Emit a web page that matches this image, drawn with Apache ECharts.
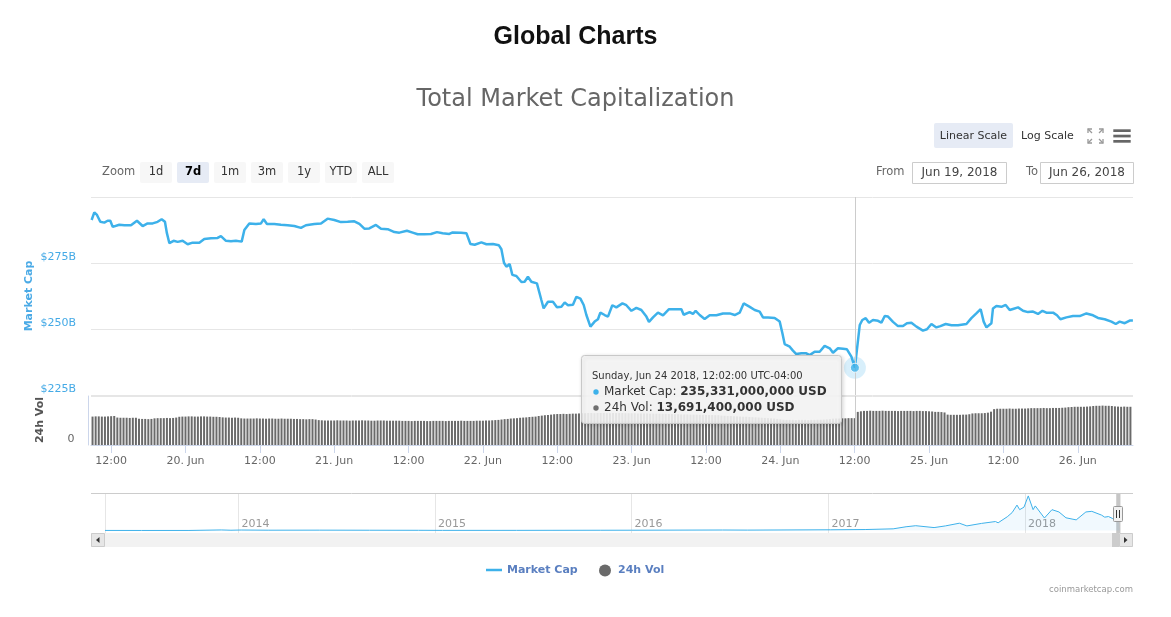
<!DOCTYPE html>
<html><head><meta charset="utf-8">
<script src="https://cdn.jsdelivr.net/npm/echarts@6/dist/echarts.min.js"></script>
<style>html,body{margin:0;padding:0;background:#fff;}#c{width:1171px;height:617px;}</style>
</head><body><div id="c"></div>
<script>
// ---------- DATA ----------
// Market cap samples (June 2018, chart-local time), values in billions USD
const capTimes = [
'06-19 08:51','06-19 09:17','06-19 09:43','06-19 10:15','06-19 10:54','06-19 11:26','06-19 11:52','06-19 12:15','06-19 13:19','06-19 14:08',
'06-19 15:12','06-19 16:10','06-19 17:05','06-19 17:53','06-19 18:42','06-19 19:30','06-19 20:09','06-19 20:41','06-19 21:00','06-19 21:24',
'06-19 22:05','06-19 22:44','06-19 23:32','06-20 00:21','06-20 01:09','06-20 02:14','06-20 03:02','06-20 04:07','06-20 05:11','06-20 05:43',
'06-20 06:32','06-20 07:20','06-20 08:08','06-20 09:04','06-20 09:30','06-20 10:18','06-20 11:22','06-20 12:11','06-20 12:37','06-20 13:09',
'06-20 14:20','06-20 15:24','06-20 16:29','06-20 17:34','06-20 18:38','06-20 19:26','06-20 20:48','06-20 21:52','06-20 22:56','06-21 00:01',
'06-21 01:05','06-21 02:10','06-21 03:15','06-21 04:04','06-21 04:52','06-21 05:40','06-21 06:44','06-21 07:33','06-21 08:38','06-21 09:43',
'06-21 10:31','06-21 11:44','06-21 12:40','06-21 13:28','06-21 14:33','06-21 15:37','06-21 16:35','06-21 17:30','06-21 18:35','06-21 19:07',
'06-21 20:28','06-21 21:20','06-21 21:59','06-21 22:40','06-21 23:45','06-22 00:34','06-22 01:37','06-22 02:35','06-22 02:59','06-22 03:24',
'06-22 03:47','06-22 04:19','06-22 04:45','06-22 05:24','06-22 06:13','06-22 06:44','06-22 07:16','06-22 07:49','06-22 08:43','06-22 09:26',
'06-22 09:48','06-22 10:30','06-22 11:18','06-22 11:57','06-22 12:40','06-22 13:12','06-22 13:44','06-22 14:32','06-22 15:05','06-22 15:44',
'06-22 16:16','06-22 16:42','06-22 16:57','06-22 17:21','06-22 18:02','06-22 18:34','06-22 18:57','06-22 19:39','06-22 20:11','06-22 20:53',
'06-22 21:32','06-22 22:31','06-22 23:09','06-22 23:58','06-23 00:46','06-23 01:34','06-23 02:23','06-23 02:48','06-23 03:27','06-23 04:15',
'06-23 05:04','06-23 06:02','06-23 06:57','06-23 08:02','06-23 08:24','06-23 09:22','06-23 09:54','06-23 10:20','06-23 10:59','06-23 11:47',
'06-23 12:36','06-23 13:41','06-23 14:45','06-23 15:50','06-23 16:38','06-23 17:26','06-23 18:05','06-23 19:04','06-23 19:52','06-23 20:40',
'06-23 21:12','06-23 22:01','06-23 23:05','06-23 23:54','06-24 00:20','06-24 00:42','06-24 01:31','06-24 02:02','06-24 02:35','06-24 03:24',
'06-24 04:12','06-24 04:44','06-24 05:32','06-24 06:21','06-24 07:09','06-24 07:58','06-24 08:30','06-24 09:18','06-24 10:07','06-24 10:45',
'06-24 11:28','06-24 12:02','06-24 12:49','06-24 13:14','06-24 13:47','06-24 14:19','06-24 14:57','06-24 15:46','06-24 16:19','06-24 16:51',
'06-24 17:23','06-24 18:11','06-24 18:59','06-24 19:48','06-24 20:26','06-24 21:09','06-24 21:58','06-24 23:01','06-24 23:40','06-25 00:23',
'06-25 01:11','06-25 01:50','06-25 02:41','06-25 03:37','06-25 04:40','06-25 06:02','06-25 06:50','06-25 07:38','06-25 08:20','06-25 08:49',
'06-25 09:16','06-25 10:04','06-25 10:19','06-25 10:52','06-25 11:41','06-25 12:22','06-25 13:01','06-25 13:33','06-25 14:22','06-25 15:10',
'06-25 15:58','06-25 16:47','06-25 17:35','06-25 18:18','06-25 18:56','06-25 20:01','06-25 20:39','06-25 21:12','06-25 22:10','06-25 23:14',
'06-26 00:19','06-26 01:24','06-26 02:28','06-26 03:16','06-26 04:21','06-26 05:26','06-26 06:08','06-26 06:46','06-26 07:35','06-26 08:23',
'06-26 08:54'];
const capValues = [
291.3,294.2,293.2,290.6,290.3,291.0,291.0,288.7,289.5,289.3,
289.3,291.0,289.0,290.0,290.0,290.6,291.6,290.6,286.3,282.5,
283.4,283.0,283.4,282.1,282.7,282.7,284.1,284.4,284.5,285.2,
283.4,283.2,283.4,283.1,287.5,290.0,289.8,290.0,291.6,289.8,
289.8,289.5,289.3,289.0,288.3,289.3,289.8,290.0,291.8,291.3,
290.5,290.6,290.8,289.8,288.0,288.1,289.4,288.0,287.8,286.7,
286.5,287.2,286.5,285.9,285.9,286.0,286.7,286.3,286.0,286.6,
286.5,286.3,282.2,281.9,282.8,282.1,282.2,281.7,280.2,275.1,
273.6,274.6,270.5,270.1,267.8,267.9,269.8,267.9,267.3,261.0,
257.8,260.3,260.3,258.2,258.4,260.0,259.0,259.2,262.2,261.5,
259.1,255.3,254.7,250.9,252.8,253.7,256.2,255.3,254.7,259.0,
258.2,259.7,259.0,256.9,258.0,257.2,254.7,252.7,254.4,256.2,
255.2,257.5,257.5,257.5,255.4,256.4,255.7,256.9,255.3,253.8,
255.2,255.2,255.9,255.9,255.3,256.2,259.7,258.4,257.2,256.6,
254.4,254.4,254.2,252.8,248.4,244.3,243.3,241.8,240.5,240.8,
240.8,240.1,241.4,241.4,243.6,242.7,241.0,242.7,242.5,242.3,
239.5,235.331,251.5,253.4,254.1,252.4,253.4,253.1,252.4,254.9,
254.7,252.7,251.1,251.1,252.2,252.4,250.9,249.4,249.9,251.9,
250.6,251.1,251.9,251.4,251.4,251.9,254.1,255.9,257.5,252.8,
250.6,252.2,257.8,258.7,258.4,259.1,257.2,257.6,258.2,256.9,
256.4,256.6,255.7,256.9,256.2,256.2,255.2,253.7,254.4,254.9,
254.9,255.9,255.2,254.2,253.7,252.8,251.9,252.8,252.2,253.2,
253.2];

// 24h volume (billions USD), one bar every 30 minutes from Jun 19 09:00
const volFirstBar = '2018-06-19 09:00';
const volValues = [
14.5,14.6,14.6,14.5,14.5,14.6,14.7,14.8,
14.0,13.9,13.9,13.9,13.8,13.9,13.9,
13.4,13.3,13.3,13.2,13.3,
13.6,13.7,13.7,13.7,13.8,13.7,13.8,14.0,
14.4,14.5,14.5,14.6,14.6,14.5,14.5,14.6,14.6,14.5,14.5,14.4,14.4,14.3,
14.1,14.0,14.0,13.9,14.0,13.9,
13.6,13.5,13.5,13.5,13.5,13.6,13.5,13.5,13.4,13.5,13.5,13.4,13.4,13.5,13.4,13.4,13.4,13.3,13.3,
13.2,13.2,13.1,13.2,13.2,13.0,
12.7,12.6,12.5,12.5,12.5,12.5,12.6,12.5,12.5,12.5,12.4,12.5,12.5,12.5,12.6,12.5,12.5,12.4,12.4,12.5,12.5,12.5,12.4,12.4,12.4,12.4,12.4,
12.3,12.3,12.3,12.2,12.3,12.3,12.3,12.3,12.2,12.2,12.3,12.3,12.3,12.3,12.2,12.3,12.3,12.3,12.3,12.4,12.3,12.3,12.3,12.3,12.4,12.4,12.4,
12.5,12.5,12.6,12.7,12.8,
13.0,13.2,13.3,13.5,13.6,13.7,
13.9,14.0,14.1,14.3,14.4,14.5,14.8,
15.0,15.2,15.3,15.5,
15.7,15.8,15.8,15.9,15.8,15.9,16.0,16.0,16.1,
16.2,16.2,16.3,16.3,16.2,16.3,16.3,16.3,16.2,16.2,16.3,16.3,16.3,16.3,16.2,16.2,16.2,16.2,16.1,16.1,16.1,16.1,16.0,16.0,16.0,16.0,15.9,15.9,
15.8,15.8,15.7,15.7,15.6,15.6,15.6,15.5,15.5,15.5,15.4,15.4,15.3,15.3,15.3,15.2,15.2,
15.0,14.9,14.8,14.8,14.7,14.6,14.5,14.4,14.4,14.3,14.2,14.1,14.0,13.9,13.8,13.7,13.6,13.5,13.3,13.1,
12.9,12.8,12.8,12.8,12.7,12.8,12.8,12.8,12.7,12.8,12.8,12.9,12.9,13.0,13.1,13.2,
13.4,13.5,13.5,13.6,13.6,13.7,13.7,13.6914,
16.9,17.2,
17.4,17.4,17.5,17.4,17.4,17.4,17.5,17.4,17.4,17.4,17.4,17.3,17.4,17.4,17.4,17.4,17.3,17.4,17.4,17.3,17.3,17.2,17.1,
16.9,16.9,16.8,16.6,
15.5,15.4,15.4,15.4,15.4,15.5,15.5,15.7,
16.1,16.2,16.2,16.2,16.3,16.5,17.0,
18.3,18.5,18.5,18.5,18.5,18.6,18.5,18.5,18.6,18.6,18.6,18.7,
18.8,18.8,18.8,18.8,18.9,18.8,18.8,18.9,18.9,18.9,19.0,19.1,
19.3,19.4,19.5,19.5,19.5,19.5,19.6,19.7,
19.9,20.0,20.0,20.1,20.0,20.0,19.9,
19.7,19.6,19.5,19.6,19.5,19.5];

// Navigator: all-time total market cap (billions USD)
const navTimes = ['2013-04-28','2013-07-05','2013-10-01','2013-11-30','2013-12-18','2014-01-06','2014-02-25','2014-06-01','2014-09-01','2014-12-01',
'2015-01-15','2015-06-01','2015-11-05','2016-01-01','2016-06-18','2016-08-03','2017-01-05','2017-03-10','2017-05-01','2017-05-25',
'2017-06-12','2017-07-16','2017-08-06','2017-09-01','2017-09-15','2017-10-12','2017-11-07','2017-11-12','2017-11-29','2017-12-08',
'2017-12-17','2017-12-22','2017-12-30','2018-01-07','2018-01-16','2018-01-20','2018-02-06','2018-02-20','2018-03-05','2018-03-18',
'2018-04-06','2018-04-24','2018-05-05','2018-05-23','2018-05-29','2018-06-05','2018-06-13','2018-06-24','2018-06-26'];
const navValues = [1.6,0.9,1.5,13.5,6.5,12,7.5,8.5,6.5,5,
3.2,3.6,6.2,7,12,9.5,17,23,40,90,
115,70,110,175,110,170,215,185,330,430,
610,500,560,830,500,590,300,500,445,305,
255,445,460,370,320,335,285,235,255];

// Axis ranges / ticks
const viewStart = '2018-06-19 08:45', viewEnd = '2018-06-26 08:55';
const xTickTimes = ['2018-06-19 12:00','2018-06-20 00:00','2018-06-20 12:00','2018-06-21 00:00','2018-06-21 12:00',
  '2018-06-22 00:00','2018-06-22 12:00','2018-06-23 00:00','2018-06-23 12:00','2018-06-24 00:00','2018-06-24 12:00',
  '2018-06-25 00:00','2018-06-25 12:00','2018-06-26 00:00'];
const navStart = '2013-04-28', navEnd = '2018-06-26 08:55';
const capTicks = [225, 250, 275, 300];
const volTicks = [0, 25];
const tooltipTime = '06-24 12:02';
const zoomButtons = ['1d','7d','1m','3m','1y','YTD','ALL'];
const selectedZoom = '7d';
const fromDate = 'Jun 19, 2018', toDate = 'Jun 26, 2018';

// ---------- HELPERS ----------
const FONT = 'DejaVu Sans';
const MONTHS = ['Jan','Feb','Mar','Apr','May','Jun','Jul','Aug','Sep','Oct','Nov','Dec'];
const DAYS = ['Sunday','Monday','Tuesday','Wednesday','Thursday','Friday','Saturday'];
const pad = n => (n < 10 ? '0' : '') + n;
function T(s) {
  const parts = s.split(' ');
  const d = parts[0].split('-').map(Number);
  const t = (parts[1] || '00:00').split(':').map(Number);
  return new Date(d[0], d[1] - 1, d[2], t[0], t[1]).getTime();
}
const fmtInt = n => Math.round(n).toString().replace(/\B(?=(\d{3})+(?!\d))/g, ',');

const capData = capTimes.map((t, i) => [T('2018-' + t), capValues[i]]);
const HALF_HOUR = 1800000;
const volStartMs = T(volFirstBar);
const volData = volValues.map((v, i) => [volStartMs + i * HALF_HOUR, v]);
const navData = navTimes.map((t, i) => [T(t), navValues[i]]);
const xTicks = xTickTimes.map(T);

const tipIdx = capTimes.indexOf(tooltipTime);
const tipMs = capData[tipIdx][0];
const tipCap = capValues[tipIdx];
const tipVolIdx = Math.round((tipMs - volStartMs) / HALF_HOUR);
const tipVol = volValues[tipVolIdx];

const BLUE = '#3db1ea';
const crossLine = {
  silent: true, symbol: ['none', 'none'], animation: false,
  label: { show: false },
  lineStyle: { color: '#cccccc', width: 1, type: 'solid' },
  data: [{ xAxis: tipMs }]
};
const xLabelFmt = v => { const d = new Date(v);
  return (d.getHours() === 0 && d.getMinutes() === 0) ? d.getDate() + '. ' + MONTHS[d.getMonth()] : pad(d.getHours()) + ':' + pad(d.getMinutes()); };

const chart = echarts.init(document.getElementById('c'));
chart.setOption({
  animation: false,
  textStyle: { fontFamily: FONT },
  grid: [
    { left: 91, top: 197, width: 1042, height: 198 },
    { left: 91, top: 396, width: 1042, height: 49 },
    { left: 105, top: 493, width: 1015, height: 40 }
  ],
  xAxis: [
    { type: 'value', gridIndex: 0, min: T(viewStart), max: T(viewEnd), show: false, splitLine: { show: false } },
    { type: 'value', gridIndex: 1, min: T(viewStart), max: T(viewEnd),
      axisLine: { lineStyle: { color: '#ccd6eb' } },
      axisTick: { length: 8, lineStyle: { color: '#ccd6eb' }, customValues: xTicks },
      splitLine: { show: false },
      axisLabel: { color: '#666', fontSize: 11, margin: 11, fontFamily: FONT, customValues: xTicks, formatter: xLabelFmt } },
    { type: 'time', gridIndex: 2, min: T(navStart), max: T(navEnd),
      minInterval: 365 * 24 * 3600000,
      axisLine: { show: false }, axisTick: { show: false },
      splitLine: { show: true, lineStyle: { color: '#e6e6e6' } },
      axisLabel: { inside: true, color: '#999', fontSize: 11, margin: 3, align: 'left', padding: [0, 0, 0, 3], fontFamily: FONT,
        formatter: v => String(new Date(v).getFullYear()) } }
  ],
  yAxis: [
    { type: 'value', gridIndex: 0, min: capTicks[0], max: capTicks[capTicks.length - 1], interval: capTicks[1] - capTicks[0],
      axisLine: { show: false }, axisTick: { show: false },
      splitLine: { lineStyle: { color: '#e6e6e6' } },
      axisLabel: { color: '#45aae6', fontSize: 11, margin: 15, verticalAlign: 'bottom', fontFamily: FONT,
        formatter: v => v === capTicks[capTicks.length - 1] ? '' : '$' + v + 'B' } },
    { type: 'value', gridIndex: 1, min: volTicks[0], max: volTicks[1], interval: volTicks[1] - volTicks[0],
      offset: 2.5,
      axisLine: { show: true, lineStyle: { color: '#ccd6eb' } }, axisTick: { show: false },
      splitLine: { lineStyle: { color: '#e6e6e6' } },
      axisLabel: { color: '#666', fontSize: 11, margin: 14, verticalAlign: 'bottom', fontFamily: FONT,
        formatter: v => v === 0 ? '0' : '' } },
    { type: 'value', gridIndex: 2, min: -60, max: 900, show: false, splitLine: { show: false } }
  ],
  legend: [
    { data: [{ name: 'Market Cap', icon: 'rect' }], left: 486, top: 564.5, padding: 0,
      itemWidth: 16, itemHeight: 2.5,
      textStyle: { color: '#5a7fc0', fontWeight: 'bold', fontSize: 11, fontFamily: FONT } },
    { data: [{ name: '24h Vol', icon: 'circle' }], left: 599, top: 564.5, padding: 0,
      itemWidth: 16, itemHeight: 12,
      textStyle: { color: '#5a7fc0', fontWeight: 'bold', fontSize: 11, fontFamily: FONT } }
  ],
  series: [
    { name: 'Market Cap', type: 'line', xAxisIndex: 0, yAxisIndex: 0, data: capData,
      symbol: 'none', lineStyle: { color: BLUE, width: 2.5 }, itemStyle: { color: BLUE },
      markLine: crossLine, z: 3 },
    { name: '24h Vol', type: 'bar', xAxisIndex: 1, yAxisIndex: 1, data: volData,
      barWidth: 2, itemStyle: { color: '#6a6a6a' }, markLine: crossLine },
    { name: 'hoverHalo', type: 'scatter', xAxisIndex: 0, yAxisIndex: 0, data: [[tipMs, tipCap]],
      symbolSize: 22, itemStyle: { color: 'rgba(61,177,234,0.25)' }, silent: true, z: 4 },
    { name: 'hoverPoint', type: 'scatter', xAxisIndex: 0, yAxisIndex: 0, data: [[tipMs, tipCap]],
      symbolSize: 9, itemStyle: { color: BLUE, borderColor: '#fff', borderWidth: 1 }, silent: true, z: 5 },
    { name: 'Navigator', type: 'line', xAxisIndex: 2, yAxisIndex: 2, data: navData,
      symbol: 'none', lineStyle: { color: BLUE, width: 1 }, areaStyle: { color: 'rgba(61,177,234,0.1)' },
      markArea: { silent: true, itemStyle: { color: 'rgba(128,128,128,0.45)' },
        data: [[{ xAxis: T(viewStart) }, { xAxis: T(viewEnd) }]] } }
  ]
});

// ---------- DECORATION (chart chrome, tooltip) ----------
function txt(x, y, text, st) {
  return { type: 'text', x: x, y: y, silent: true, z: 100,
    style: Object.assign({ text: text, fontFamily: FONT, fontSize: 11.5, fill: '#333', verticalAlign: 'middle', align: 'left' }, st || {}) };
}
function rect(x, y, w, h, st, r) {
  return { type: 'rect', silent: true, z: 90, shape: { x: x, y: y, width: w, height: h, r: r || 0 }, style: st };
}
const g = [];
g.push(txt(575.5, 37, 'Global Charts', { fontFamily: 'Liberation Sans', fontSize: 25, fontWeight: 'bold', fill: '#111', align: 'center' }));
g.push(txt(575.5, 100, 'Total Market Capitalization', { fontSize: 24, fill: '#666', align: 'center' }));
// scale buttons
g.push(rect(934, 123, 79, 25, { fill: '#e6ebf5' }, 2));
g.push(txt(973.5, 136, 'Linear Scale', { fontSize: 11, align: 'center' }));
g.push(txt(1021, 136, 'Log Scale', { fontSize: 11 }));
// fullscreen icon
const fi = { stroke: '#999', lineWidth: 1.3, fill: null };
[[1088,129,1,1],[1103,129,-1,1],[1088,143,1,-1],[1103,143,-1,-1]].forEach(c => {
  g.push({ type: 'polyline', silent: true, z: 90, shape: { points: [[c[0], c[1] + 4 * c[3]], [c[0], c[1]], [c[0] + 4 * c[2], c[1]]] }, style: fi });
  g.push({ type: 'line', silent: true, z: 90, shape: { x1: c[0], y1: c[1], x2: c[0] + 4 * c[2], y2: c[1] + 4 * c[3] }, style: fi });
});
// menu icon
[129.3, 134.7, 140].forEach(y => g.push(rect(1113.3, y, 17.4, 2.7, { fill: '#666' })));
// zoom buttons
g.push(txt(102, 172.5, 'Zoom', { fill: '#666' }));
zoomButtons.forEach((b, i) => {
  const x = 140 + 37 * i, sel = b === selectedZoom;
  g.push(rect(x, 162, 32, 21, { fill: sel ? '#e6ebf5' : '#f7f7f7' }, 2));
  g.push(txt(x + 16, 172.5, b, { align: 'center', fontWeight: sel ? 'bold' : 'normal', fill: sel ? '#000' : '#333' }));
});
// date range inputs
g.push(txt(876, 172, 'From', { fill: '#666' }));
g.push(rect(912.5, 162.5, 94, 21, { fill: '#fff', stroke: '#cccccc', lineWidth: 1 }));
g.push(txt(959.5, 172.5, fromDate, { align: 'center', fontSize: 12, fill: '#444' }));
g.push(txt(1026, 172, 'To', { fill: '#666' }));
g.push(rect(1040.5, 162.5, 93, 21, { fill: '#fff', stroke: '#cccccc', lineWidth: 1 }));
g.push(txt(1087, 172.5, toDate, { align: 'center', fontSize: 12, fill: '#444' }));
// axis titles
g.push({ type: 'text', x: 29, y: 296, rotation: Math.PI / 2, silent: true, z: 100,
  style: { text: 'Market Cap', fontFamily: FONT, fontSize: 11, fontWeight: 'bold', fill: '#4aaae6', align: 'center', verticalAlign: 'middle' } });
g.push({ type: 'text', x: 40, y: 420, rotation: Math.PI / 2, silent: true, z: 100,
  style: { text: '24h Vol', fontFamily: FONT, fontSize: 11, fontWeight: 'bold', fill: '#555', align: 'center', verticalAlign: 'middle' } });
// navigator outline + scrollbar
g.push({ type: 'line', silent: true, z: 90, shape: { x1: 91, y1: 493.5, x2: 1133, y2: 493.5 }, style: { stroke: '#cccccc', lineWidth: 1 } });
g.push(rect(91, 533, 1042, 14, { fill: '#f2f2f2' }));
const navEndPx = chart.convertToPixel({ xAxisIndex: 2 }, T(navEnd));
g.push(rect(navEndPx - 8, 533, 7, 14, { fill: '#cccccc' }));
g.push(rect(91.5, 533.5, 13, 13, { fill: '#e6e6e6', stroke: '#cccccc', lineWidth: 1 }));
g.push({ type: 'polygon', silent: true, z: 91, shape: { points: [[99.5, 537], [99.5, 543], [96, 540]] }, style: { fill: '#333' } });
g.push(rect(1119.5, 533.5, 13, 13, { fill: '#e6e6e6', stroke: '#cccccc', lineWidth: 1 }));
g.push({ type: 'polygon', silent: true, z: 91, shape: { points: [[1124, 537], [1124, 543], [1127.5, 540]] }, style: { fill: '#333' } });
// navigator handle
const hx = navEndPx - 2;
g.push(rect(hx - 4.5, 506.5, 9, 15, { fill: '#f2f2f2', stroke: '#999', lineWidth: 1 }, 1));
g.push({ type: 'line', silent: true, z: 91, shape: { x1: hx - 1.5, y1: 510, x2: hx - 1.5, y2: 518 }, style: { stroke: '#333', lineWidth: 1 } });
g.push({ type: 'line', silent: true, z: 91, shape: { x1: hx + 1.5, y1: 510, x2: hx + 1.5, y2: 518 }, style: { stroke: '#333', lineWidth: 1 } });
// credits
g.push(txt(1133, 590, 'coinmarketcap.com', { align: 'right', fontSize: 8.5, fill: '#999' }));
// tooltip (anchored to the hovered point)
const pt = chart.convertToPixel({ xAxisIndex: 0, yAxisIndex: 0 }, [tipMs, tipCap]);
const bx = Math.round(pt[0]) - 274, by = Math.round(pt[1]) - 13;
const td = new Date(tipMs);
const dateStr = DAYS[td.getDay()] + ', ' + MONTHS[td.getMonth()] + ' ' + td.getDate() + ' ' + td.getFullYear() + ', ' +
  pad(td.getHours()) + ':' + pad(td.getMinutes()) + ':00 UTC-04:00';
g.push({ type: 'rect', silent: true, z: 200, shape: { x: bx + 0.5, y: by + 0.5, width: 260, height: 68, r: 3 },
  style: { fill: 'rgba(247,247,247,0.88)', stroke: '#c8c8c8', lineWidth: 1, shadowBlur: 4, shadowOffsetX: 1, shadowOffsetY: 1, shadowColor: 'rgba(0,0,0,0.18)' } });
const tt = (x, y, text, st) => { const e = txt(x, y, text, st); e.z = 201; return e; };
g.push(tt(bx + 11, by + 21, dateStr, { fontSize: 10, fill: '#333' }));
g.push({ type: 'circle', silent: true, z: 201, shape: { cx: bx + 15, cy: by + 37, r: 2.7 }, style: { fill: BLUE } });
g.push({ type: 'circle', silent: true, z: 201, shape: { cx: bx + 15, cy: by + 53, r: 2.7 }, style: { fill: '#6f6f6f' } });
g.push(tt(bx + 23, by + 36.7, '{n|Market Cap: }{b|' + fmtInt(tipCap * 1e9) + ' USD}',
  { rich: { n: { fontSize: 12, fill: '#333', fontFamily: FONT }, b: { fontSize: 12, fill: '#333', fontWeight: 'bold', fontFamily: FONT } } }));
g.push(tt(bx + 23, by + 52.7, '{n|24h Vol: }{b|' + fmtInt(tipVol * 1e9) + ' USD}',
  { rich: { n: { fontSize: 12, fill: '#333', fontFamily: FONT }, b: { fontSize: 12, fill: '#333', fontWeight: 'bold', fontFamily: FONT } } }));

chart.setOption({ graphic: { elements: g } });
</script>
</body></html>
